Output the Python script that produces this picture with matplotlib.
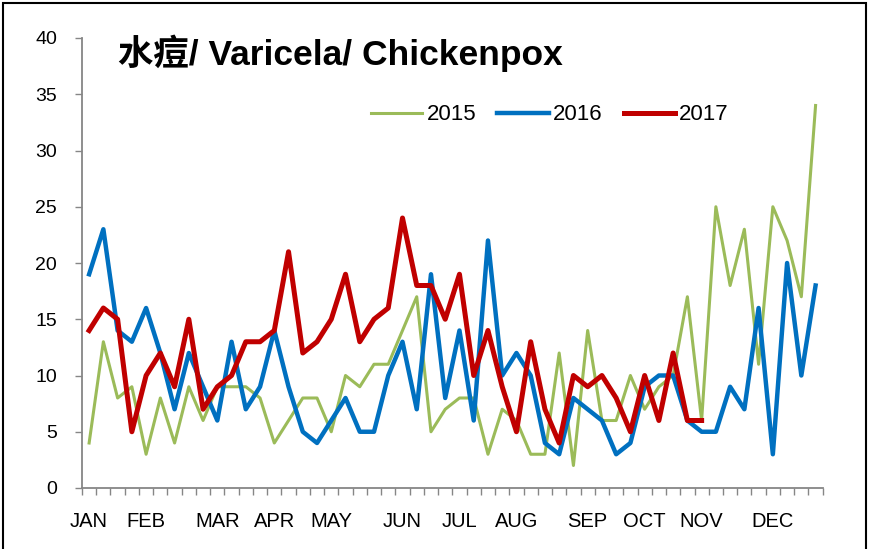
import numpy as np
import matplotlib
matplotlib.use("Agg")
import matplotlib.pyplot as plt
from matplotlib import font_manager
from matplotlib.patches import Rectangle

# ---- data (weekly cases) ----
cases_2015 = [4, 13, 8, 9, 3, 8, 4, 9, 6, 9, 9, 9, 8,
              4, 6, 8, 8, 5, 10, 9, 11, 11, 14, 17, 5, 7, 8,
              8, 3, 7, 6, 3, 3, 12, 2, 14, 6, 6, 10, 7, 9,
              10, 17, 6, 25, 18, 23, 11, 25, 22, 17, 34]
cases_2016 = [19, 23, 14, 13, 16, 12, 7, 12, 9, 6, 13, 7, 9,
              14, 9, 5, 4, 6, 8, 5, 5, 10, 13, 7, 19, 8, 14,
              6, 22, 10, 12, 10, 4, 3, 8, 7, 6, 3, 4, 9, 10,
              10, 6, 5, 5, 9, 7, 16, 3, 20, 10, 18]
cases_2017 = [14, 16, 15, 5, 10, 12, 9, 15, 7, 9, 10, 13, 13,
              14, 21, 12, 13, 15, 19, 13, 15, 16, 24, 18, 18, 15, 19,
              10, 14, 9, 5, 13, 7, 4, 10, 9, 10, 8, 5, 10, 6,
              12, 6, 6]
month_labels = ["JAN", "FEB", "MAR", "APR", "MAY", "JUN",
                "JUL", "AUG", "SEP", "OCT", "NOV", "DEC"]
month_weeks = [0, 4, 9, 13, 17, 22, 26, 30, 35, 39, 43, 48]
n_weeks = 52

names = {f.name for f in font_manager.fontManager.ttflist}
latin = "Liberation Sans Narrow" if "Liberation Sans Narrow" in names else "Liberation Sans"
plt.rcParams["font.family"] = [latin, "Noto Sans CJK TC", "DejaVu Sans"]

fig = plt.figure(figsize=(8.72, 5.49), dpi=100)
ax = fig.add_axes([82 / 872, 1 - 488 / 549, (822.7 - 82) / 872, (488 - 38) / 549])

ax.plot(range(len(cases_2015)), cases_2015, color="#9BBB59", lw=2.2, label="2015")
ax.plot(range(len(cases_2016)), cases_2016, color="#0070C0", lw=3.2, label="2016")
ax.plot(range(len(cases_2017)), cases_2017, color="#C00000", lw=3.6, label="2017")

ax.set_xlim(-0.5, n_weeks - 0.5)
ax.set_ylim(0, 40)
ax.set_yticks(range(0, 41, 5))
ax.set_xticks(np.arange(-0.5, n_weeks, 1.0))
ax.set_xticklabels([])
ax.set_xticks(month_weeks, minor=True)
ax.set_xticklabels(month_labels, minor=True)

grey = "#868686"
for s in ["top", "right"]:
    ax.spines[s].set_visible(False)
for s in ["left", "bottom"]:
    ax.spines[s].set_color(grey)
    ax.spines[s].set_linewidth(1.3)
ax.tick_params(axis="x", which="major", direction="out", length=5, color=grey, width=1)
ax.tick_params(axis="x", which="minor", length=0, pad=17, labelsize=14.5)
ax.tick_params(axis="y", direction="out", length=5, color=grey, width=1, pad=13, labelsize=14)

ax.text(118 / 872, 1 - 53 / 549, "水痘/ Varicela/ Chickenpox", transform=fig.transFigure,
        fontsize=25.5, fontweight="bold", va="center", ha="left")

ax.legend(loc="center", bbox_to_anchor=(550 / 872, 1 - 115 / 549), bbox_transform=fig.transFigure,
          ncol=3, frameon=False, fontsize=16, handlelength=2.3, columnspacing=0.95, handletextpad=0.2)

fig.patches.append(Rectangle((3 / 872, -0.1), (866 - 3) / 872, 1.1 - 3 / 549, transform=fig.transFigure,
                             fill=False, edgecolor="black", lw=1.5))

fig.savefig("out.png", dpi=100)
